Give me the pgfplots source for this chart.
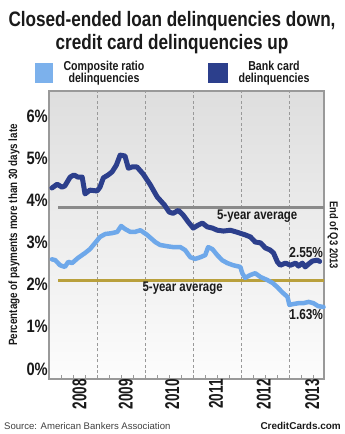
\documentclass[border=0pt]{standalone}
\usepackage{pgfplots}
\pgfplotsset{compat=1.18}
\usepackage{pgfplotstable}
\usepackage{fontspec}
\setmainfont{Liberation Sans}
\newfontfamily\cond{Liberation Sans}[FakeStretch=0.82]
\newfontfamily\ycond{Liberation Sans}[FakeStretch=0.68]
\definecolor{lightb}{HTML}{6EA8EA}
\definecolor{darkb}{HTML}{2C3F8C}
\definecolor{gold}{HTML}{B9A03C}
\definecolor{avggray}{HTML}{8A8A8A}
\definecolor{txt}{HTML}{1A1A1A}

\pgfplotstableread{
x y
2008.06 4.29
2008.17 4.38
2008.27 4.31
2008.33 4.34
2008.44 4.55
2008.52 4.60
2008.60 4.55
2008.69 4.55
2008.75 4.15
2008.85 4.24
2009.00 4.22
2009.06 4.31
2009.13 4.53
2009.23 4.60
2009.31 4.67
2009.40 4.83
2009.48 5.07
2009.58 5.05
2009.65 4.76
2009.73 4.79
2009.83 4.79
2009.96 4.62
2010.10 4.38
2010.25 4.08
2010.40 3.89
2010.50 3.72
2010.58 3.69
2010.69 3.76
2010.79 3.65
2010.90 3.48
2011.00 3.34
2011.10 3.41
2011.19 3.46
2011.29 3.37
2011.40 3.34
2011.50 3.29
2011.63 3.27
2011.77 3.29
2011.92 3.24
2012.08 3.18
2012.19 3.13
2012.29 3.01
2012.40 2.99
2012.50 2.87
2012.60 2.82
2012.67 2.75
2012.75 2.54
2012.81 2.46
2012.92 2.51
2013.02 2.46
2013.13 2.51
2013.19 2.44
2013.27 2.51
2013.33 2.42
2013.40 2.49
2013.48 2.56
2013.58 2.58
2013.63 2.55
}\bank

\pgfplotstableread{
x y
2008.06 2.60
2008.13 2.58
2008.23 2.46
2008.33 2.42
2008.40 2.54
2008.48 2.51
2008.60 2.63
2008.75 2.75
2008.85 2.84
2008.96 2.99
2009.06 3.13
2009.17 3.20
2009.31 3.22
2009.42 3.25
2009.50 3.39
2009.58 3.32
2009.69 3.25
2009.79 3.25
2009.90 3.29
2010.04 3.18
2010.21 3.01
2010.31 2.94
2010.46 2.91
2010.58 2.89
2010.73 2.89
2010.83 2.82
2010.94 2.65
2011.04 2.61
2011.15 2.65
2011.25 2.70
2011.31 2.89
2011.40 2.84
2011.50 2.70
2011.60 2.58
2011.71 2.51
2011.83 2.46
2011.98 2.42
2012.02 2.27
2012.08 2.16
2012.19 2.23
2012.29 2.27
2012.40 2.18
2012.54 2.11
2012.65 2.04
2012.75 1.94
2012.85 1.82
2012.96 1.71
2013.00 1.52
2013.08 1.54
2013.19 1.56
2013.29 1.56
2013.40 1.59
2013.50 1.56
2013.60 1.49
2013.71 1.47
}\comp

\begin{document}
\begin{tikzpicture}[x=1bp,y=1bp]
\useasboundingbox (0,0) rectangle (344,434);
\fill[white] (0,0) rectangle (344,434);
% title
\node[anchor=base, font=\cond\bfseries\fontsize{21}{22}\selectfont, text=txt, inner sep=0] at (172,407) {Closed-ended loan delinquencies down,};
\node[anchor=base, font=\cond\bfseries\fontsize{21}{22}\selectfont, text=txt, inner sep=0] at (172,384) {credit card delinquencies up};
% legend
\fill[lightb!90] (35,351) rectangle (53,371);
\fill[darkb] (208,351) rectangle (228,371);
\node[anchor=base, font=\cond\bfseries\fontsize{13}{13}\selectfont, text=txt, inner sep=0] at (104,363) {Composite ratio};
\node[anchor=base, font=\cond\bfseries\fontsize{13}{13}\selectfont, text=txt, inner sep=0] at (104,351) {delinquencies};
\node[anchor=base, font=\cond\bfseries\fontsize{13}{13}\selectfont, text=txt, inner sep=0] at (274,363) {Bank card};
\node[anchor=base, font=\cond\bfseries\fontsize{13}{13}\selectfont, text=txt, inner sep=0] at (274,351) {delinquencies};
% y label
\node[rotate=90, font=\cond\bfseries\fontsize{12}{12}\selectfont, text=txt, inner sep=0] at (14,199) {Percentage of payments more than 30 days late};
% right label
\node[rotate=-90, font=\cond\bfseries\fontsize{11.5}{12}\selectfont, text=txt, inner sep=0] at (333,199) {End of Q3 2013};
% footer
\node[anchor=base west, font=\fontsize{9.6}{10}\selectfont, text=black!75, inner sep=0] at (4,4) {Source: American Bankers Association};
\node[anchor=base east, font=\bfseries\fontsize{10}{11}\selectfont, text=txt, inner sep=0] at (341,4) {CreditCards.com};

\begin{axis}[
  at={(49bp,55bp)}, anchor=south west,
  scale only axis, width=275bp, height=288bp,
  xmin=2008, xmax=2013.72, ymin=-0.237, ymax=6.59,
  axis background/.style={shade, top color=black!13, bottom color=black!1},
  axis line style={draw=black!40, line width=1.3bp},
  ytick={0,1,2,3,4,5,6},
  yticklabels={0\%,1\%,2\%,3\%,4\%,5\%,6\%},
  yticklabel style={font=\cond\bfseries\fontsize{18}{18}\selectfont, text=txt, inner sep=1bp},
  ytick style={draw=none},
  xtick={2008.25,2008.5,2008.75,2009.25,2009.5,2009.75,2010.25,2010.5,2010.75,2011.25,2011.5,2011.75,2012.25,2012.5,2012.75,2013.25,2013.5},
  xticklabels={},
  xtick pos=left,
  tick align=inside,
  major tick length=4bp,
  xtick style={draw=black!40, line width=0.8bp},
  extra x ticks={2009,2010,2011,2012,2013},
  extra x tick labels={},
  extra x tick style={grid=major, major tick length=4bp},
  major grid style={draw=black!40, line width=0.8bp, dash pattern=on 3bp off 2.5bp},
  clip=false,
]
\addplot[avggray, line width=3bp, forget plot] coordinates {(2008.19,3.83) (2013.72,3.83)};
\addplot[gold, line width=3bp, forget plot] coordinates {(2008.19,2.09) (2013.72,2.09)};
\addplot[lightb, line width=4.5bp, line join=round, line cap=round] table {\comp};
\addplot[darkb, line width=5bp, line join=round, line cap=round] table {\bank};

\node[font=\cond\bfseries\fontsize{14}{14}\selectfont, text=txt] at (axis cs:2012.33,3.62) {5-year average};
\node[font=\cond\bfseries\fontsize{14}{14}\selectfont, text=txt] at (axis cs:2010.78,1.91) {5-year average};
\node[font=\cond\bfseries\fontsize{14.5}{14}\selectfont, text=txt] at (axis cs:2013.35,2.76) {2.55\%};
\node[font=\cond\bfseries\fontsize{14.5}{14}\selectfont, text=txt] at (axis cs:2013.35,1.28) {1.63\%};

\foreach \yr/\xx in {2008/2008.49, 2009/2009.45, 2010/2010.42, 2011/2011.33, 2012/2012.32, 2013/2013.33} {
  \edef\temp{\noexpand\node[rotate=90, anchor=east, font=\noexpand\ycond\noexpand\bfseries\noexpand\fontsize{20}{20}\noexpand\selectfont, text=txt, inner sep=0] at (axis cs:\xx,-0.237) [yshift=-7bp] {\yr};}
  \temp
}
\end{axis}
\end{tikzpicture}
\end{document}
